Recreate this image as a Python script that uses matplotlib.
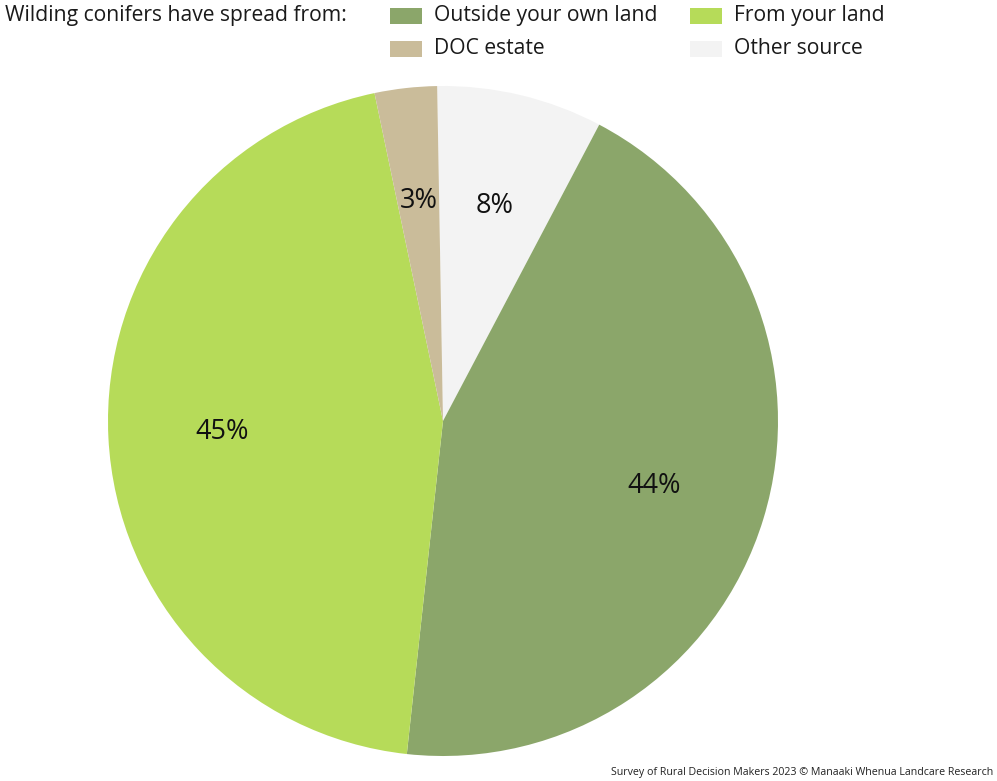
import matplotlib
matplotlib.use('Agg')
import matplotlib.pyplot as plt
from matplotlib.patches import Rectangle

plt.rcParams['font.family'] = ['Open Sans', 'DejaVu Sans']

# Sources of wilding conifer spread (share of respondents, %)
sources = ['Other source', 'Outside your own land', 'From your land', 'DOC estate']
shares = [8, 44, 45, 3]
colors = ['#f3f3f3', '#8ba66a', '#b6db59', '#cabc9a']

# legend order as laid out across the top
legend_order = ['Outside your own land', 'From your land', 'DOC estate', 'Other source']

W, H = 997, 781
fig = plt.figure(figsize=(W / 100, H / 100), dpi=100)

# pie axes: centre around (443, 421) px, radius 335 px
ax = fig.add_axes([108 / W, 25 / H, 670 / W, 670 / H])
wedges, texts, autotexts = ax.pie(
    shares,
    colors=colors,
    startangle=91,
    counterclock=False,
    autopct='%.0f%%',
    pctdistance=0.66,
    radius=1.0,
    textprops=dict(color='#111111', fontsize=19.5),
)
ax.set_xlim(-1, 1)
ax.set_ylim(-1, 1)
ax.set_aspect('equal')
ax.axis('off')

# header legend
fig.text(5 / W, 1 - 16 / H, 'Wilding conifers have spread from:',
         fontsize=15.2, color='#1a1a1a', va='center', ha='left')

cols_x = [390, 690]
rows_y = [16, 49]
col_of = dict(zip(sources, colors))
for i, name in enumerate(legend_order):
    x = cols_x[i % 2]
    y = rows_y[i // 2]
    fig.add_artist(Rectangle((x / W, 1 - (y + 8) / H), 32 / W, 16 / H,
                             transform=fig.transFigure, facecolor=col_of[name],
                             edgecolor='none'))
    fig.text((x + 44) / W, 1 - y / H, name, fontsize=15.2, color='#1a1a1a',
             va='center', ha='left')

fig.text(993 / W, 1 - 772 / H,
         'Survey of Rural Decision Makers 2023 \u00a9 Manaaki Whenua Landcare Research',
         fontsize=7.7, color='#222222', ha='right', va='center')

fig.savefig('out.png', dpi=100, facecolor='white')
